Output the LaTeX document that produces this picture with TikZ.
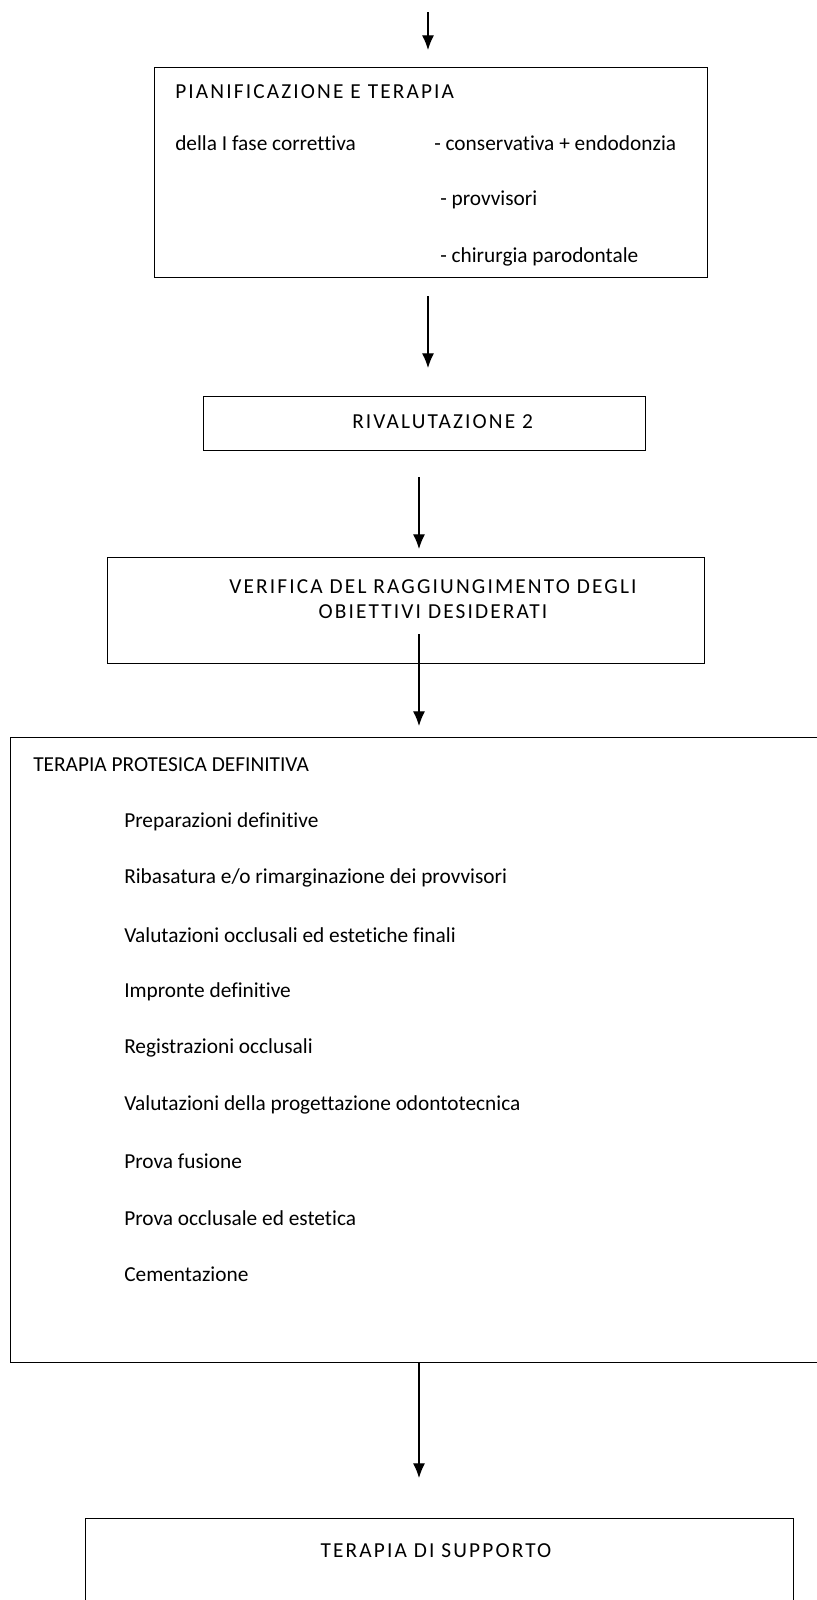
\documentclass[tikz,border=0pt]{standalone}
\usepackage{fontspec}
\setmainfont{Carlito}[Ligatures=NoCommon]
\newfontfamily\spaziato{Carlito}[LetterSpace=10]
\usetikzlibrary{arrows.meta,calc,positioning}

\begin{document}
\begin{tikzpicture}[x=0.75pt,y=-0.75pt,
  every node/.style={font=\fontsize{16}{19}\selectfont,inner sep=0pt},
  caps/.style={font=\spaziato\fontsize{16}{19}\selectfont},
  riquadro/.style={draw,line width=0.9pt,anchor=north west},
  misure/.style 2 args={minimum width=#1*0.75pt,minimum height=#2*0.75pt},
  voce/.style={anchor=west},
  freccia/.style={line width=0.9pt,-{Latex[length=11pt,width=9pt]}}]
\useasboundingbox (0,0) rectangle (817,1600);
\clip (0,0) rectangle (817,1600);
% riquadri
\node [riquadro,misure={553}{210}] (Pianificazione) at (154,67) {};
\node [riquadro,misure={442}{54}] (Rivalutazione) at (203,396) {};
\node [riquadro,misure={597}{106}] (Verifica) at (107,557) {};
\node [riquadro,misure={830}{625}] (Protesica) at (10,737) {};
\node [riquadro,misure={708}{120}] (Supporto) at (85,1518) {};
% testi
\node [voce,caps] (PianTitolo) at ($(Pianificazione.north west)+(21,25)$) {PIANIFICAZIONE E TERAPIA};
\node [voce] (PianFase) at ($(Pianificazione.north west)+(21,76)$) {della I fase correttiva};
\node [voce] (PianCons) at ($(Pianificazione.north west)+(280,76)$) {- conservativa + endodonzia};
\node [voce] (PianProvv) at ($(Pianificazione.north west)+(286,133)$) {- provvisori};
\node [voce] (PianChir) at ($(Pianificazione.north west)+(286,190)$) {- chirurgia parodontale};
\node [voce,caps] (RivTesto) at ($(Rivalutazione.north west)+(149,26)$) {RIVALUTAZIONE 2};
\node [caps,align=center] (VerTesto) at (433,599) {VERIFICA DEL RAGGIUNGIMENTO DEGLI\\OBIETTIVI DESIDERATI};
\node [voce] (ProtTitolo) at ($(Protesica.north west)+(23,28)$) {TERAPIA PROTESICA DEFINITIVA};
\foreach \testo [count=\i] in {Preparazioni definitive,Ribasatura e/o rimarginazione dei provvisori,Valutazioni occlusali ed estetiche finali,Impronte definitive,Registrazioni occlusali,Valutazioni della progettazione odontotecnica,Prova fusione,Prova occlusale ed estetica,Cementazione}
  \node [voce] (Prot\i) at (124,{765+56.6*\i}) {\testo};
\node [caps] (SuppTesto) at (436,1551) {TERAPIA DI SUPPORTO};
% frecce
\coordinate (F0a) at (428,12);   \coordinate (F0b) at (428,50);
\coordinate (F1a) at (428,296);  \coordinate (F1b) at (428,368);
\coordinate (F2a) at (419,477);  \coordinate (F2b) at (419,549);
\coordinate (F3a) at (419,634);  \coordinate (F3b) at (419,726);
\coordinate (F4a) at (Protesica.south -| F3a); \coordinate (F4b) at (419,1478);
\draw [freccia] (F0a) -- (F0b);
\draw [freccia] (F1a) -- (F1b);
\draw [freccia] (F2a) -- (F2b);
\draw [freccia] (F3a) -- (F3b);
\draw [freccia] (F4a) -- (F4b);
\end{tikzpicture}
\end{document}
